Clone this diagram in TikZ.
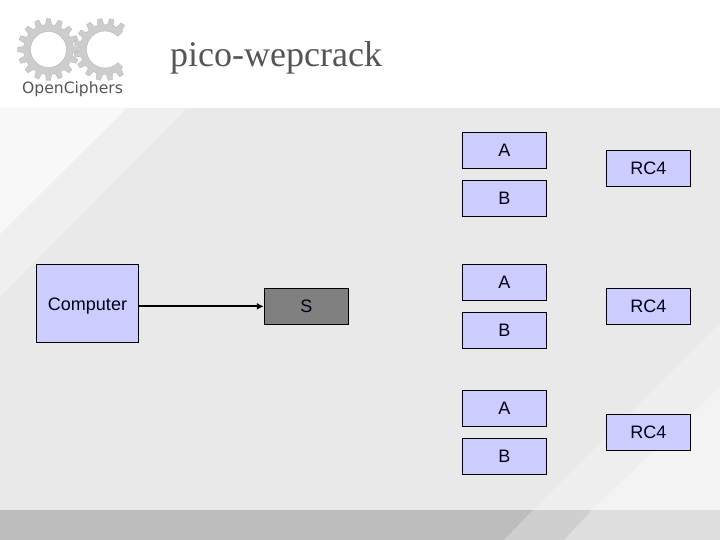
\documentclass[tikz,border=0pt]{standalone}
\usepackage{fontspec}
\setmainfont{Liberation Sans}
\newfontfamily\titlefont{Liberation Serif}
\newfontfamily\logofont{DejaVu Sans}
\usetikzlibrary{arrows.meta}
\definecolor{bgbase}{HTML}{E9E9E9}
\definecolor{bgmidA}{HTML}{EFEFEF}
\definecolor{bgliteA}{HTML}{F8F8F8}
\definecolor{bgmidB}{HTML}{EEEEEE}
\definecolor{bgliteB}{HTML}{F3F3F3}
\definecolor{bandbase}{HTML}{BDBDBD}
\definecolor{bandmid}{HTML}{CFCFCF}
\definecolor{bandlite}{HTML}{DEDEDE}
\definecolor{boxblue}{HTML}{CCCCFF}
\definecolor{boxgrey}{HTML}{808080}
\definecolor{gearfill}{HTML}{CDCDCD}
\definecolor{gearline}{HTML}{B0B0B0}
\definecolor{inkgrey}{HTML}{555555}
\tikzset{
  x=1pt,y=-1pt,
  blockbox/.style={draw=black,line width=1pt,fill=boxblue,minimum width=84pt,minimum height=36pt,inner sep=0pt,font=\fontsize{18}{20}\selectfont,text=black!90!blue,text height=13pt,text depth=0pt},
  greybox/.style={blockbox,fill=boxgrey},
  compbox/.style={blockbox,minimum width=101.5pt,minimum height=78pt},
  link/.style={draw=black,line width=1.9pt,-{Latex[length=7pt,width=7pt]}},
  gearshape/.style={fill=gearfill,draw=gearline,line width=.3pt,even odd rule},
}
\begin{document}
\begin{tikzpicture}
\useasboundingbox (0,0) rectangle (720,540);
% background
\fill[white] (0,0) rectangle (720,108);
\fill[bgbase] (0,108) rectangle (720,510);
\fill[bgmidA] (0,108) -- (187,108) -- (0,297) -- cycle;
\fill[bgliteA] (0,108) -- (127,108) -- (0,234) -- cycle;
\fill[bgmidB] (533,510) -- (720,323) -- (720,510) -- cycle;
\fill[bgliteB] (592,510) -- (720,387) -- (720,510) -- cycle;
\fill[bandbase] (0,510) rectangle (720,540);
\fill[bandmid] (533,510) -- (504,540) -- (720,540) -- (720,510) -- cycle;
\fill[bandlite] (592,510) -- (564,540) -- (720,540) -- (720,510) -- cycle;
% logo
\def\pp{22.5}
\path[gearshape]
  ({48.5+25*cos(-7)},{49.5+25*sin(-7)})
  \foreach \k in {0,...,15}{
    -- ({48.5+25*cos(\k*\pp-7)},{49.5+25*sin(\k*\pp-7)})
    -- ({48.5+31*cos(\k*\pp-4)},{49.5+31*sin(\k*\pp-4)})
    -- ({48.5+31*cos(\k*\pp+4)},{49.5+31*sin(\k*\pp+4)})
    -- ({48.5+25*cos(\k*\pp+7)},{49.5+25*sin(\k*\pp+7)})
  } -- cycle
  (48.5,49.5) circle[radius=18];
\path[gearshape]
  ({105+18.5*cos(45)},{49.5+18.5*sin(-45)})
  -- ({105+25*cos(45)},{49.5+25*sin(-45)})
  \foreach \k in {0,...,11}{
    -- ({105+25*cos(48+\k*\pp)},{49.5-25*sin(48+\k*\pp)})
    -- ({105+31*cos(51+\k*\pp)},{49.5-31*sin(51+\k*\pp)})
    -- ({105+31*cos(59+\k*\pp)},{49.5-31*sin(59+\k*\pp)})
    -- ({105+25*cos(62+\k*\pp)},{49.5-25*sin(62+\k*\pp)})
  }
  -- ({105+25*cos(315)},{49.5-25*sin(315)})
  -- ({105+18.5*cos(315)},{49.5-18.5*sin(315)})
  arc[start angle=45,end angle=315,radius=18.5] -- cycle;
\node[anchor=base,text=inkgrey,font=\logofont\fontsize{15.6}{18}\selectfont,inner sep=0pt] (logotext) at (72.5,94) {OpenCiphers};
% title
\node[anchor=base west,text=inkgrey,font=\titlefont\fontsize{36}{40}\selectfont,inner sep=0pt] (title) at (170,66.5) {pico-wepcrack};
% boxes
\node[compbox] (computer) at (87.5,303.5) {Computer};
\node[greybox] (s) at (306.3,306.3) {S};
\node[blockbox] (a1) at (504.3,150.3) {A};
\node[blockbox] (b1) at (504.3,198.3) {B};
\node[blockbox] (r1) at (648.3,168.3) {RC4};
\node[blockbox] (a2) at (504.3,282.3) {A};
\node[blockbox] (b2) at (504.3,330.3) {B};
\node[blockbox] (r2) at (648.3,306.3) {RC4};
\node[blockbox] (a3) at (504.3,408.3) {A};
\node[blockbox] (b3) at (504.3,456.3) {B};
\node[blockbox] (r3) at (648.3,432.3) {RC4};
\draw[link] (computer.east |- s.west) -- (s.west);
\end{tikzpicture}
\end{document}
